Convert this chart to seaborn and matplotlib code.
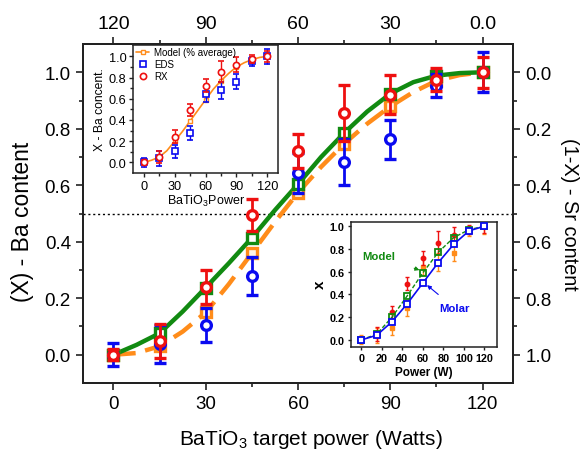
import matplotlib
matplotlib.use("Agg")
import matplotlib.pyplot as plt
import seaborn as sns
from matplotlib.lines import Line2D

sns.set_theme(style="ticks")
plt.rcParams['font.family'] = ['Liberation Sans', 'DejaVu Sans']
plt.rcParams['mathtext.fontset'] = 'custom'
plt.rcParams['mathtext.rm'] = 'Liberation Sans'
plt.rcParams['text.color'] = 'black'
plt.rcParams['axes.labelcolor'] = 'black'
plt.rcParams['xtick.color'] = 'black'
plt.rcParams['ytick.color'] = 'black'

# ---------------- data ----------------
power = [0, 15, 30, 45, 60, 75, 90, 105, 120]
model_main = [0.0, 0.076, 0.238, 0.414, 0.604, 0.785, 0.924, 0.988, 1.0]
molar_main = [0.0, 0.03, 0.15, 0.36, 0.574, 0.747, 0.879, 0.97, 1.0]
eds = [0.0, 0.038, 0.104, 0.279, 0.644, 0.682, 0.762, 0.953, 1.0]
eds_err = [0.04, 0.068, 0.06, 0.068, 0.07, 0.08, 0.07, 0.04, 0.07]
rx = [0.0, 0.05, 0.241, 0.494, 0.722, 0.855, 0.921, 0.974, 1.0]
rx_err = [0.02, 0.06, 0.06, 0.057, 0.06, 0.10, 0.07, 0.04, 0.055]

curve_x = [0, 7.5, 15, 22.5, 30, 37.5, 45, 52.5, 60, 67.5, 75, 82.5, 90, 97.5, 105, 112.5, 120]
model_curve = [0.0, 0.035, 0.076, 0.153, 0.238, 0.324, 0.414, 0.512, 0.604, 0.70, 0.785,
               0.861, 0.924, 0.965, 0.988, 0.997, 1.0]
molar_curve = [0.0, 0.006, 0.03, 0.082, 0.15, 0.25, 0.36, 0.47, 0.574, 0.665, 0.747,
               0.818, 0.879, 0.93, 0.97, 0.99, 1.0]

# top-left inset model (% average)
avg_points = [0.0, 0.05, 0.2, 0.39, 0.59, 0.77, 0.9, 0.97, 1.0]
avg_curve = [0.0, 0.02, 0.05, 0.11, 0.2, 0.29, 0.39, 0.49, 0.59, 0.69, 0.77,
             0.84, 0.9, 0.94, 0.97, 0.99, 1.0]

# bottom-right inset
model_in = [0.0, 0.05, 0.2, 0.39, 0.59, 0.77, 0.9, 0.97, 1.0]
molar_in = [0.0, 0.04, 0.16, 0.32, 0.5, 0.68, 0.84, 0.96, 1.0]

bottom_ticks = [0, 30, 60, 90, 120]
top_labels = ["120", "90", "60", "30", "0.0"]
left_ticks = [0.0, 0.2, 0.4, 0.6, 0.8, 1.0]
right_labels = ["1.0", "0.8", "0.6", "0.4", "0.2", "0.0"]

GREEN = "#118a11"
ORANGE = "#ff8c1a"
BLUE = "#0a0af0"
RED = "#ee1010"
SPINE = "#222222"

fig = plt.figure(figsize=(5.83, 4.56), dpi=100)
ax = fig.add_axes([0.1419, 0.1579, 0.7386, 0.7434])

ax.axhline(0.5, ls=(0, (1.5, 2)), color="black", lw=1.0, zorder=1)

sns.lineplot(x=curve_x, y=model_curve, ax=ax, color=GREEN, lw=3.2, zorder=3)
sns.lineplot(x=curve_x, y=molar_curve, ax=ax, color=ORANGE, lw=3.2, zorder=2)
ax.lines[-1].set_dashes([5, 2.2])

ax.plot(power, molar_main, ls="none", marker="s", ms=7, mfc="#fff4e6", mec=ORANGE, mew=2.4, zorder=4)
ax.plot(power, model_main, ls="none", marker="s", ms=7, mfc="white", mec=GREEN, mew=2.4, zorder=5)
ax.errorbar(power, eds, yerr=eds_err, fmt="o", ms=7, mfc="white", mec=BLUE, mew=2.4,
            ecolor=BLUE, elinewidth=2, capsize=4, capthick=2, zorder=6)
ax.errorbar(power, rx, yerr=rx_err, fmt="o", ms=7, mfc="white", mec=RED, mew=2.4,
            ecolor=RED, elinewidth=2, capsize=4, capthick=2, zorder=7)

ax.set_xlim(-10, 130)
ax.set_ylim(-0.1, 1.1)
ax.set_xticks(bottom_ticks)
ax.set_xticks([15, 45, 75, 105], minor=True)
ax.set_yticks(left_ticks)
ax.set_yticklabels([f"{v:.1f}" for v in left_ticks])
ax.set_yticks([0.1, 0.3, 0.5, 0.7, 0.9], minor=True)
ax.tick_params(axis="both", which="major", direction="out", length=5, width=1.2,
               labelsize=13.5, color=SPINE)
ax.tick_params(axis="both", which="minor", direction="out", length=3, width=1.2, color=SPINE)
for s in ax.spines.values():
    s.set_linewidth(1.4)
    s.set_color(SPINE)
ax.set_xlabel("BaTiO$_3$ target power (Watts)", fontsize=15)
ax.xaxis.set_label_coords(0.53, -0.13)
ax.set_ylabel("(X) - Ba content", fontsize=16.5)
ax.yaxis.set_label_coords(-0.113, 0.477)

axt = ax.twiny()
axt.set_xlim(ax.get_xlim())
axt.set_xticks(bottom_ticks)
axt.set_xticklabels(top_labels)
axt.set_xticks([15, 45, 75, 105], minor=True)
axt.tick_params(axis="x", which="major", direction="out", length=5, width=1.2,
                labelsize=14, color=SPINE)
axt.tick_params(axis="x", which="minor", direction="out", length=3, width=1.2, color=SPINE)

axr = ax.twinx()
axr.set_ylim(ax.get_ylim())
axr.set_yticks(left_ticks)
axr.set_yticklabels(right_labels)
axr.set_yticks([0.1, 0.3, 0.5, 0.7, 0.9], minor=True)
axr.tick_params(axis="y", which="major", direction="out", length=5, width=1.2,
                labelsize=13.5, color=SPINE)
axr.tick_params(axis="y", which="minor", direction="out", length=3, width=1.2, color=SPINE)
axr.set_ylabel("(1-X) - Sr content", fontsize=14.4, rotation=270, labelpad=20)
for a in (axt, axr):
    for s in a.spines.values():
        s.set_linewidth(1.4)
        s.set_color(SPINE)

# ---------------- top-left inset ----------------
ia = fig.add_axes([0.2287, 0.6184, 0.2477, 0.2814])
ia.set_facecolor("white")
sns.lineplot(x=curve_x, y=avg_curve, ax=ia, color=ORANGE, lw=1.2, zorder=2)
ia.plot(power, avg_points, ls="none", marker="s", ms=3.5, mfc="white", mec=ORANGE, mew=1.0, zorder=3)
ia.errorbar(power, eds, yerr=eds_err, fmt="s", ms=4, mfc="white", mec=BLUE, mew=1.2,
            ecolor=BLUE, elinewidth=1, capsize=2, capthick=1, zorder=4)
ia.errorbar(power, rx, yerr=rx_err, fmt="o", ms=4.5, mfc="white", mec=RED, mew=1.2,
            ecolor=RED, elinewidth=1, capsize=2, capthick=1, zorder=5)
ia.set_xlim(-10, 130)
ia.set_ylim(-0.1, 1.11)
ia.set_xticks(bottom_ticks)
ia.set_xticks([15, 45, 75, 105], minor=True)
ia.set_yticks(left_ticks)
ia.set_yticklabels([f"{v:.1f}" for v in left_ticks])
ia.set_yticks([0.1, 0.3, 0.5, 0.7, 0.9], minor=True)
ia.tick_params(axis="both", which="major", direction="out", length=3, width=1,
               labelsize=9.2, pad=2, color=SPINE)
ia.tick_params(axis="both", which="minor", direction="out", length=2, width=1, color=SPINE)
for s in ia.spines.values():
    s.set_linewidth(1.1)
    s.set_color(SPINE)
ia.set_xlabel("BaTiO$_3$Power", fontsize=9, labelpad=1)
ia.set_ylabel("X - Ba concent.", fontsize=8.7, labelpad=2)
handles = [
    Line2D([], [], color=ORANGE, lw=1.2, marker="s", ms=3.5, mfc="white", mec=ORANGE),
    Line2D([], [], ls="none", marker="s", ms=4, mfc="white", mec=BLUE, mew=1.2),
    Line2D([], [], ls="none", marker="o", ms=4.5, mfc="white", mec=RED, mew=1.2),
]
ia.legend(handles, ["Model (% average)", "EDS", "RX"], loc="upper left", frameon=False,
          fontsize=7, handlelength=1.4, handletextpad=0.5, borderpad=0.15,
          labelspacing=0.2, borderaxespad=0.1)

# ---------------- bottom-right inset ----------------
ib = fig.add_axes([0.602, 0.2375, 0.25, 0.2741])
ib.set_facecolor("white")
ib.errorbar(power, eds, yerr=eds_err, fmt="s", ms=3, color=ORANGE, ecolor=ORANGE,
            elinewidth=1, capsize=1.5, capthick=1, zorder=2)
ib.errorbar(power, rx, yerr=rx_err, fmt="o", ms=3.2, color=RED, ecolor=RED,
            elinewidth=1, capsize=1.5, capthick=1, zorder=3)
sns.lineplot(x=power, y=model_in, ax=ib, color=GREEN, lw=1.0, zorder=4)
ib.lines[-1].set_dashes([3, 1.5])
ib.plot(power, model_in, ls="none", marker="s", ms=5, mfc="none", mec=GREEN, mew=1.3, zorder=5)
sns.lineplot(x=power, y=molar_in, ax=ib, color=BLUE, lw=1.2, zorder=6)
ib.plot(power, molar_in, ls="none", marker="s", ms=5, mfc="white", mec=BLUE, mew=1.3, zorder=7)
ib.set_xlim(-10, 132)
ib.set_ylim(-0.06, 1.04)
ib.set_xticks([0, 20, 40, 60, 80, 100, 120])
ib.set_yticks(left_ticks)
ib.set_yticklabels([f"{v:.1f}" for v in left_ticks])
ib.tick_params(axis="both", which="major", direction="out", length=2.5, width=1,
               labelsize=7.8, pad=2, color=SPINE)
for lab in ib.get_xticklabels() + ib.get_yticklabels():
    lab.set_fontweight("bold")
for s in ib.spines.values():
    s.set_linewidth(1.1)
    s.set_color(SPINE)
ib.set_xlabel("Power (W)", fontsize=8.5, fontweight="bold", labelpad=2)
ib.set_ylabel("x", fontsize=11, fontweight="bold", labelpad=2)
ib.annotate("Model", xy=(58, 0.61), xytext=(17, 0.74), fontsize=8.2, fontweight="bold",
            color=GREEN, ha="center", va="center",
            arrowprops=dict(arrowstyle="-|>", color=GREEN, lw=0.8, mutation_scale=6,
                            shrinkA=12, shrinkB=1))
ib.annotate("Molar", xy=(63, 0.49), xytext=(91, 0.28), fontsize=8.2, fontweight="bold",
            color=BLUE, ha="center", va="center",
            arrowprops=dict(arrowstyle="-|>", color=BLUE, lw=0.8, mutation_scale=6,
                            shrinkA=6, shrinkB=1))

fig.savefig("out.png", dpi=100)
